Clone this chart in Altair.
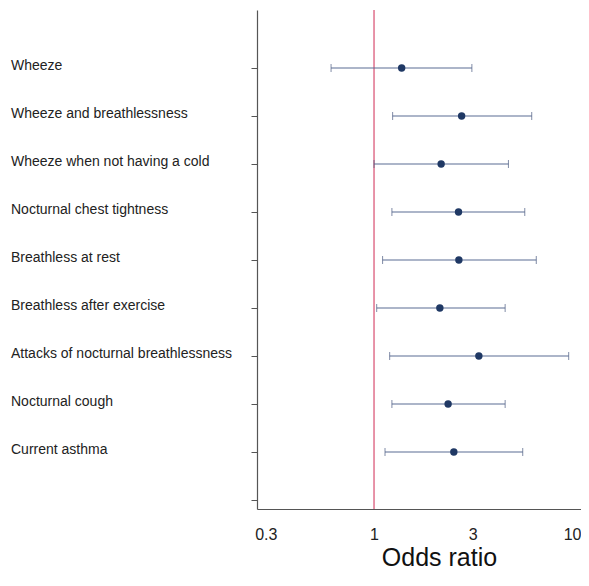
import altair as alt
import pandas as pd

outcomes = [
    "Wheeze",
    "Wheeze and breathlessness",
    "Wheeze when not having a cold",
    "Nocturnal chest tightness",
    "Breathless at rest",
    "Breathless after exercise",
    "Attacks of nocturnal breathlessness",
    "Nocturnal cough",
    "Current asthma",
]
odds_ratio = [1.36, 2.65, 2.11, 2.56, 2.57, 2.08, 3.21, 2.28, 2.43]
ci_low = [0.62, 1.23, 1.00, 1.22, 1.10, 1.03, 1.19, 1.22, 1.13]
ci_high = [2.97, 5.78, 4.46, 5.35, 6.08, 4.30, 8.72, 4.30, 5.23]
row = list(range(1, len(outcomes) + 1))

x_ticks = [0.3, 1, 3, 10]
y_ticks = list(range(1, 11))
reference = [1]

df = pd.DataFrame({
    "outcome": outcomes,
    "or": odds_ratio,
    "lo": ci_low,
    "hi": ci_high,
    "row": row,
})
ref_df = pd.DataFrame({"ref": reference})

FONT = "Liberation Sans"

xscale = alt.Scale(type="log", domain=[0.272, 10], nice=False)
yscale = alt.Scale(domain=[-0.2083, 10.1875], reverse=True, nice=False, zero=False)

x_axis = alt.Axis(
    values=x_ticks, title="Odds ratio", grid=False, ticks=False, tickSize=0,
    labelPadding=17, labelFontSize=16, labelFont=FONT, labelColor="#222222",
    labelFlush=6, format="~g",
    domainColor="#555555", domainWidth=1.2,
    titleFont=FONT, titleFontSize=25, titleFontWeight="normal", titleColor="#111111",
    titleX=182, titleY=56, titleAlign="center", titleBaseline="alphabetic",
)
y_axis = alt.Axis(
    values=y_ticks, labels=False, title=None, grid=False,
    tickSize=6, tickColor="#555555", domainColor="#555555", domainWidth=1.2,
)

base = alt.Chart(df)

lines = base.mark_rule(color="#5b6d93", strokeWidth=1.2).encode(
    x=alt.X("lo:Q", scale=xscale, axis=x_axis),
    x2="hi:Q",
    y=alt.Y("row:Q", scale=yscale, axis=y_axis),
)
cap_lo = base.mark_tick(orient="vertical", size=8, thickness=1, color="#4a5a80").encode(
    x=alt.X("lo:Q", scale=xscale),
    y=alt.Y("row:Q", scale=yscale),
)
cap_hi = base.mark_tick(orient="vertical", size=8, thickness=1, color="#4a5a80").encode(
    x=alt.X("hi:Q", scale=xscale),
    y=alt.Y("row:Q", scale=yscale),
)
points = base.mark_point(filled=True, size=55, opacity=1, color="#1f3864").encode(
    x=alt.X("or:Q", scale=xscale),
    y=alt.Y("row:Q", scale=yscale),
)
labels = base.mark_text(
    align="left", baseline="middle", dy=-2, fontSize=14, font=FONT, color="#222222"
).encode(
    x=alt.value(-246),
    y=alt.Y("row:Q", scale=yscale),
    text="outcome:N",
)
ref_line = alt.Chart(ref_df).mark_rule(color="#e0708c", strokeWidth=1.5).encode(
    x=alt.X("ref:Q", scale=xscale),
)

chart = alt.layer(ref_line, lines, cap_lo, cap_hi, points, labels).properties(
    width=324,
    height=499,
    background="white",
    autosize=alt.AutoSizeParams(type="none"),
    padding={"left": 249, "top": 2, "right": 0, "bottom": 64},
).configure_view(stroke="transparent", strokeWidth=0)

chart.save("out.html", embed_options={"renderer": "svg", "actions": False})
